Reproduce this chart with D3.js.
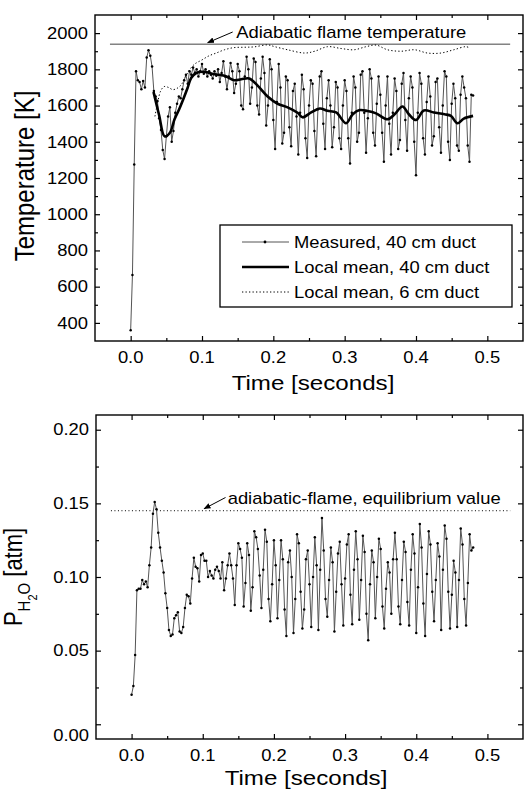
<!DOCTYPE html>
<meta charset="utf-8">
<script src="https://d3js.org/d3.v7.min.js"></script>
<style>
  body { margin: 0; background: #fff; }
  svg text { font-family: "Liberation Sans", Arial, sans-serif; fill: #000; }
</style>
<div id="chart"></div>
<script>
// sampling interval of the measured traces (seconds)
const sampleStep = 0.0025;

// measured temperature, 40 cm duct [K]
const measuredTemp40 = [
  360, 665, 1275, 1790, 1740, 1730, 1690, 1735, 1700, 1865,
  1905, 1875, 1815, 1680, 1650, 1625, 1530, 1465, 1355, 1305,
  1430, 1540, 1590, 1400, 1460, 1560, 1610, 1650, 1640, 1690,
  1740, 1770, 1720, 1790, 1770, 1810, 1780, 1800, 1760, 1790,
  1830, 1775, 1800, 1760, 1790, 1770, 1750, 1790, 1765, 1800,
  1730, 1780, 1845, 1760, 1690, 1760, 1835, 1790, 1670, 1720,
  1830, 1790, 1600, 1580, 1760, 1870, 1800, 1610, 1700, 1860,
  1840, 1600, 1550, 1750, 1870, 1780, 1490, 1600, 1855, 1800,
  1520, 1360, 1620, 1830, 1700, 1390, 1450, 1760, 1740, 1480,
  1375, 1680, 1720, 1540, 1330, 1560, 1770, 1690, 1420, 1310,
  1600, 1740, 1720, 1460, 1320, 1580, 1760, 1790, 1500, 1360,
  1640, 1740, 1600, 1370, 1480, 1730, 1700, 1420, 1360, 1600,
  1740, 1680, 1420, 1280, 1560, 1760, 1700, 1400, 1450, 1770,
  1790, 1560, 1340, 1530, 1800, 1750, 1450, 1380, 1610, 1760,
  1660, 1450, 1290, 1600, 1760, 1500, 1330, 1560, 1750, 1680,
  1360, 1410, 1720, 1780, 1520, 1350, 1640, 1760, 1700, 1400,
  1215, 1560, 1780, 1720, 1420, 1330, 1620, 1760, 1650, 1380,
  1430, 1730, 1750, 1480, 1340, 1600, 1790, 1760, 1400, 1300,
  1610, 1720, 1640, 1380, 1350, 1660, 1760, 1700, 1640, 1380,
  1290, 1660, 1655
];

// local mean, 40 cm duct
const mean40Times = [0.032, 0.040, 0.0476, 0.055, 0.0615, 0.068, 0.0736, 0.080, 0.085, 0.092,
  0.1035, 0.1175, 0.1315, 0.145, 0.155, 0.166, 0.178, 0.192, 0.206, 0.220,
  0.234, 0.241, 0.253, 0.265, 0.276, 0.288, 0.302, 0.311, 0.321, 0.332,
  0.344, 0.360, 0.370, 0.381, 0.390, 0.400, 0.411, 0.425, 0.440, 0.449,
  0.458, 0.467, 0.480];
const mean40Temps = [1675, 1545, 1430, 1450, 1524, 1580, 1634, 1700, 1754, 1780,
  1786, 1773, 1764, 1740, 1745, 1750, 1710, 1650, 1610, 1590,
  1560, 1535, 1562, 1584, 1571, 1562, 1502, 1551, 1575, 1570,
  1557, 1524, 1552, 1595, 1552, 1520, 1573, 1562, 1552, 1543,
  1502, 1528, 1543];

// local mean, 6 cm duct
const mean6Times = [0.034, 0.038, 0.042, 0.047, 0.053, 0.059, 0.065, 0.071, 0.077, 0.083,
  0.090, 0.100, 0.110, 0.120, 0.1315, 0.145, 0.160, 0.173, 0.192, 0.202,
  0.220, 0.244, 0.258, 0.276, 0.295, 0.313, 0.330, 0.344, 0.360, 0.379,
  0.398, 0.416, 0.435, 0.453, 0.470, 0.476];
const mean6Temps = [1540, 1620, 1680, 1705, 1700, 1688, 1695, 1715, 1760, 1800,
  1830, 1852, 1875, 1890, 1908, 1920, 1922, 1924, 1935, 1925,
  1908, 1890, 1900, 1925, 1915, 1908, 1925, 1934, 1908, 1900,
  1908, 1890, 1890, 1908, 1925, 1917];

// measured H2O partial pressure [atm]
const measuredH2O = [
  .020, .026, .047, .091, .092, .092, .098, .095, .097, .093,
  .108, .120, .143, .151, .146, .130, .120, .111, .103, .089,
  .079, .064, .060, .061, .072, .074, .076, .063, .062, .066,
  .079, .088, .087, .082, .099, .113, .107, .106, .097, .115,
  .116, .111, .111, .100, .104, .101, .099, .105, .107, .104,
  .099, .110, .091, .099, .108, .116, .108, .099, .081, .108,
  .123, .119, .113, .080, .096, .123, .115, .077, .093, .131,
  .127, .119, .101, .079, .105, .132, .124, .085, .070, .095,
  .125, .108, .072, .098, .125, .112, .078, .060, .110, .118,
  .100, .062, .085, .129, .123, .090, .065, .078, .112, .118,
  .095, .066, .100, .127, .108, .064, .105, .140, .118, .085,
  .073, .098, .120, .110, .063, .090, .116, .124, .095, .067,
  .099, .122, .129, .088, .068, .105, .131, .112, .071, .098,
  .128, .117, .075, .057, .095, .118, .110, .072, .100, .126,
  .119, .080, .065, .092, .110, .103, .075, .112, .130, .112,
  .080, .068, .098, .124, .117, .083, .067, .105, .129, .116,
  .062, .093, .136, .120, .082, .060, .102, .131, .122, .090,
  .070, .098, .123, .114, .064, .105, .135, .126, .090, .065,
  .088, .111, .103, .066, .098, .133, .122, .085, .067, .096,
  .129, .118, .120
];

const adiabaticTemp = 1939;
const equilibriumH2O = 0.145;
const refLineSpan = [-0.029, 0.532];

const timeTicks = [0, 0.1, 0.2, 0.3, 0.4, 0.5];
const timeMinor = [0.05, 0.15, 0.25, 0.35, 0.45];
const tempTicks = [400, 600, 800, 1000, 1200, 1400, 1600, 1800, 2000];
const tempMinor = [500, 700, 900, 1100, 1300, 1500, 1700, 1900];
const h2oTicks = [0, 0.05, 0.10, 0.15, 0.20];
const h2oMinor = [0.025, 0.075, 0.125, 0.175];
const legendLabels = ["Measured, 40 cm duct", "Local mean, 40 cm duct", "Local mean, 6 cm duct"];

const width = 524, height = 789;
const stretch = 1.15; // the original lettering is wide

const svg = d3.select("#chart").append("svg")
  .attr("width", width)
  .attr("height", height);

// arrow head
svg.append("defs").append("marker")
  .attr("id", "arrow")
  .attr("viewBox", "0 0 10 10")
  .attr("refX", 9).attr("refY", 5)
  .attr("markerWidth", 7).attr("markerHeight", 7)
  .attr("orient", "auto")
  .append("path")
  .attr("d", "M0,1 L10,5 L0,9 Z")
  .attr("fill", "#000");

function label(x, y, str, size, anchor) {
  return svg.append("text")
    .attr("transform", `translate(${x},${y}) scale(${stretch},1)`)
    .attr("text-anchor", anchor || "start")
    .style("font-size", size + "px")
    .text(str);
}

function frame(x, y, yTicks, yMinor, yFormat, zeroShift) {
  const [x0, x1] = x.range();
  const [y0, y1] = y.range();
  // ticks on all four sides, pointing inward
  const sides = [
    [d3.axisBottom(x), `translate(0,${y0})`, timeTicks, timeMinor],
    [d3.axisTop(x), `translate(0,${y1})`, timeTicks, timeMinor],
    [d3.axisLeft(y), `translate(${x0},0)`, yTicks, yMinor],
    [d3.axisRight(y), `translate(${x1},0)`, yTicks, yMinor]
  ];
  sides.forEach(([ax, tr, major, minor]) => {
    svg.append("g").attr("transform", tr)
      .call(ax.tickValues(major).tickSize(-5).tickSizeOuter(0).tickFormat(""))
      .call(g => g.select(".domain").remove())
      .selectAll("line").attr("stroke-width", 1.2);
    svg.append("g").attr("transform", tr)
      .call(ax.tickValues(minor).tickSize(-3).tickSizeOuter(0).tickFormat(""))
      .call(g => g.select(".domain").remove())
      .selectAll("line").attr("stroke-width", 1.2);
  });
  svg.append("rect")
    .attr("x", x0).attr("y", y1)
    .attr("width", x1 - x0).attr("height", y0 - y1)
    .attr("fill", "none").attr("stroke", "#000").attr("stroke-width", 1.4);

  timeTicks.forEach(t => label(x(t), y0 + 22, d3.format(".1f")(t), 16, "middle"));
  yTicks.forEach(v => {
    label(x0 - 7, y(v) + (v === 0 ? zeroShift : 0), yFormat(v), 16, "end").attr("dy", "0.36em");
  });
}

function measured(g, x, y, values) {
  g.append("path")
    .datum(values)
    .attr("fill", "none")
    .attr("stroke", "#555")
    .attr("stroke-width", 1)
    .attr("d", d3.line()
      .x((d, i) => x(i * sampleStep))
      .y(d => y(d)));
  g.selectAll("circle")
    .data(values)
    .join("circle")
    .attr("cx", (d, i) => x(i * sampleStep))
    .attr("cy", d => y(d))
    .attr("r", 1.25)
    .attr("fill", "#000");
}

// ---------------- top panel: temperature ----------------
const xT = d3.scaleLinear().domain([-0.05, 0.55]).range([95, 523]);
const yT = d3.scaleLinear().domain([300, 2100]).range([341, 15]);

frame(xT, yT, tempTicks, tempMinor, d3.format("d"), 0);

svg.append("line")
  .attr("x1", xT(refLineSpan[0])).attr("x2", xT(refLineSpan[1]))
  .attr("y1", yT(adiabaticTemp)).attr("y2", yT(adiabaticTemp))
  .attr("stroke", "#444").attr("stroke-width", 1);

const gT = svg.append("g");
measured(gT, xT, yT, measuredTemp40);

gT.append("path")
  .datum(mean6Times.map((t, i) => [t, mean6Temps[i]]))
  .attr("fill", "none")
  .attr("stroke", "#000")
  .attr("stroke-width", 1)
  .attr("stroke-dasharray", "1.3,2.2")
  .attr("d", d3.line().x(d => xT(d[0])).y(d => yT(d[1])).curve(d3.curveCatmullRom));

gT.append("path")
  .datum(mean40Times.map((t, i) => [t, mean40Temps[i]]))
  .attr("fill", "none")
  .attr("stroke", "#000")
  .attr("stroke-width", 2.6)
  .attr("d", d3.line().x(d => xT(d[0])).y(d => yT(d[1])).curve(d3.curveCatmullRom));

// annotation
label(xT(0.148), 37.5, "Adiabatic flame temperature", 16);
svg.append("line")
  .attr("x1", xT(0.143)).attr("y1", 32)
  .attr("x2", xT(0.108)).attr("y2", yT(adiabaticTemp) - 1.5)
  .attr("stroke", "#000").attr("stroke-width", 1)
  .attr("marker-end", "url(#arrow)");

// legend
const leg = svg.append("g").attr("transform", "translate(220,225)");
leg.append("rect")
  .attr("width", 292).attr("height", 82)
  .attr("fill", "#fff").attr("stroke", "#000").attr("stroke-width", 1.3);
const legStyles = [
  { w: 1, dash: null, dot: true, color: "#555" },
  { w: 2.6, dash: null, dot: false, color: "#000" },
  { w: 1, dash: "1.3,2.2", dot: false, color: "#000" }
];
legendLabels.forEach((name, i) => {
  const yy = 17 + i * 25;
  const s = legStyles[i];
  leg.append("line")
    .attr("x1", 22).attr("x2", 69).attr("y1", yy).attr("y2", yy)
    .attr("stroke", s.color).attr("stroke-width", s.w)
    .attr("stroke-dasharray", s.dash);
  if (s.dot) {
    leg.append("circle").attr("cx", 45).attr("cy", yy).attr("r", 1.4).attr("fill", "#000");
  }
  leg.append("text")
    .attr("transform", `translate(74,${yy}) scale(${stretch},1)`)
    .attr("dy", "0.36em")
    .style("font-size", "16px")
    .text(name);
});

// axis titles
label(313, 390, "Time [seconds]", 21, "middle");
svg.append("text")
  .attr("transform", `translate(34,176) scale(${stretch},1) rotate(-90)`)
  .attr("text-anchor", "middle")
  .style("font-size", "24px")
  .text("Temperature [K]");

// ---------------- bottom panel: H2O ----------------
const xP = d3.scaleLinear().domain([-0.05, 0.55]).range([96, 523]);
const yP = d3.scaleLinear().domain([-0.01, 0.21]).range([739, 415]);

frame(xP, yP, h2oTicks, h2oMinor, d3.format(".2f"), 11);

svg.append("line")
  .attr("x1", xP(refLineSpan[0])).attr("x2", xP(refLineSpan[1]))
  .attr("y1", yP(equilibriumH2O)).attr("y2", yP(equilibriumH2O))
  .attr("stroke", "#000").attr("stroke-width", 1)
  .attr("stroke-dasharray", "1,2.5");

const gP = svg.append("g");
measured(gP, xP, yP, measuredH2O);

label(xP(0.135), 504, "adiabatic-flame, equilibrium value", 16);
svg.append("line")
  .attr("x1", xP(0.132)).attr("y1", 497.5)
  .attr("x2", xP(0.102)).attr("y2", yP(equilibriumH2O) - 2)
  .attr("stroke", "#000").attr("stroke-width", 1)
  .attr("marker-end", "url(#arrow)");

label(306, 785, "Time [seconds]", 21, "middle");

const py = svg.append("text")
  .attr("transform", `translate(22,577) scale(${stretch},1) rotate(-90)`)
  .attr("text-anchor", "middle")
  .style("font-size", "22px");
py.append("tspan").text("P");
py.append("tspan").attr("dy", 7).style("font-size", "15px").text("H");
py.append("tspan").attr("dy", 6).style("font-size", "11px").text("2");
py.append("tspan").attr("dy", -6).style("font-size", "15px").text("O");
py.append("tspan").attr("dy", -7).text(" [atm]");
</script>
